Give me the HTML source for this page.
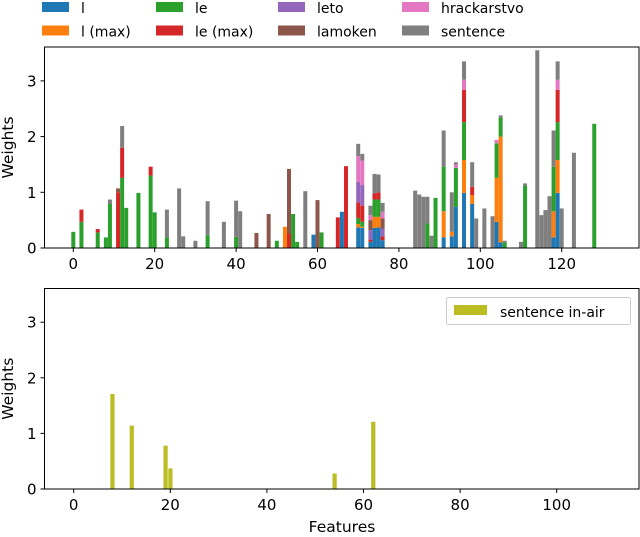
<!DOCTYPE html>
<html><head><meta charset="utf-8"><style>
html,body{margin:0;padding:0;background:#fff;}
svg{display:block;font-family:"DejaVu Sans","Liberation Sans",sans-serif;}
</style></head><body>
<svg id="chart" width="640" height="537" viewBox="0 0 640 537"></svg>
<script>
const seriesNames=["l","l (max)","le","le (max)","leto","lamoken","hrackarstvo","sentence"];
const seriesColors=["#1f77b4","#ff7f0e","#2ca02c","#d62728","#9467bd","#8c564b","#e377c2","#7f7f7f"];
const features=[0,2,6,8,9,11,12,13,16,19,20,23,26,27,30,33,37,40,41,45,48,50,52,53,54,55,57,59,60,61,65,66,67,70,71,73,74,75,76,84,85,86,87,88,89,91,93,94,96,98,99,101,103,104,105,106,110,111,114,115,116,117,118,119,120,123,128];
const sL    =[0,0,0,0,0,0,0,0,0,0,0,0,0,0,0,0,0,0,0,0,0,0,0,0,0,0,0,0.24,0,0,0,0.65,0,0.37,0.36,0.11,0.36,0.37,0.14,0,0,0,0,0,0,0.19,0.21,0.74,0.99,0.79,0,0,0,0.47,0.10,0,0,0,0,0,0,0,0.19,0.99,0,0,0];
const sLmax =[0,0,0,0,0,0,0,0,0,0,0,0,0,0,0,0,0,0,0,0,0,0,0.38,0,0,0,0,0,0,0,0,0,0,0.06,0.02,0,0.2,0.19,0,0,0,0,0,0,0,0.47,0.08,0,0.59,0.16,0,0,0,0.79,1.90,0,0,0,0,0,0,0,0.47,0.59,0,0,0];
const sLe   =[0.29,0.47,0.28,0.19,0.79,0,1.26,0.72,0.99,1.30,0.64,0.19,0,0,0,0.23,0,0.2,0,0,0,0.13,0,0,0.61,0.11,0,0,0,0.28,0,0,0,0.11,0.09,0,0.31,0.31,0,0,0,0,0.44,0,0.90,0.80,0,0.70,0.68,0,0,0,0,0.62,0.34,0.10,0,1.12,0,0,0,0,0.80,0.68,0,0,2.23];
const sLemax=[0,0.22,0.06,0,0,1.0,0.54,0,0,0.16,0,0,0,0,0,0,0,0,0,0,0,0,0,0.26,0,0,0,0,0,0,0.55,0,1.47,0.28,0.29,0.04,0.11,0.13,0.07,0,0,0,0,0,0,0,0,0,0.58,0.15,0,0,0,0,0,0,0,0,0,0,0,0,0,0.58,0,0,0];
const sLeto =[0,0,0,0,0,0,0,0,0,0,0,0,0,0,0,0,0,0,0,0,0,0,0,0,0,0,0,0,0,0,0,0,0,0.37,0.37,0.17,0,0,0.14,0,0,0,0,0,0,0,0,0,0,0,0,0,0,0,0,0,0,0,0,0,0,0,0,0,0,0,0];
const sLam  =[0,0,0,0,0,0.07,0,0,0,0,0,0,0,0,0,0,0,0,0,0.27,0.61,0,0,1.16,0,0,0,0,0.86,0,0,0,0,0,0,0.18,0,0,0.18,0,0,0,0,0,0,0,0,0,0,0,0,0,0,0,0,0,0,0,0,0,0,0,0,0,0,0,0];
const sHr   =[0,0,0,0,0,0,0,0,0,0,0,0,0,0,0,0,0,0,0,0,0,0,0,0,0,0,0,0,0,0,0,0,0,0.46,0.44,0.09,0,0,0.12,0,0,0,0,0,0,0,0,0.06,0.18,0,0,0,0,0.06,0,0,0,0,0,0,0,0,0,0.18,0,0,0];
const sSent =[0,0,0,0,0.08,0,0.39,0,0,0,0,0.50,1.07,0.21,0.13,0.61,0.47,0.65,0.66,0,0,0,0,0,0,0,1.02,0,0,0,0,0,0,0.22,0.12,0.17,0.35,0.32,0.16,1.03,0.96,0.92,0.48,0.22,0,0.65,0.71,0.04,0.33,0.44,0.53,0.71,0.57,0,0.04,0.03,0.11,0.04,3.55,0.59,0.68,0.93,0.65,0.33,0.71,1.71,0];
const stackSeries=[sL,sLmax,sLe,sLemax,sLeto,sLam,sHr,sSent];
const airFeatures=[8,12,19,20,54,62];
const airValues=[1.71,1.14,0.78,0.37,0.28,1.21];
const xTicksTop=[0,20,40,60,80,100,120];
const xTicksBot=[0,20,40,60,80,100];
const yTicks=[0,1,2,3];

const NS="http://www.w3.org/2000/svg";
const svg=document.getElementById('chart');
function mk(tag,attrs,parent){const e=document.createElementNS(NS,tag);for(const k in attrs)e.setAttribute(k,attrs[k]);(parent||svg).appendChild(e);return e;}

const T={l:44.5,r:639,t:47,b:248,x0:73.3,kx:4.07,ky:55.7};
const B={l:44.5,r:639,t:288.5,b:489,x0:73.7,kx:4.83,ky:55.6};
const xT=v=>T.x0+v*T.kx, yT=v=>T.b-v*T.ky;
const xB=v=>B.x0+v*B.kx, yB=v=>B.b-v*B.ky;

const gTop=mk('g',{});


features.forEach((f,i)=>{
  let acc=0;
  stackSeries.forEach((s,j)=>{
    const v=s[i]; if(!v) return;
    const r=mk('rect',{x:xT(f)-2,y:yT(acc+v),width:4,height:v*T.ky,fill:seriesColors[j]},gTop);
    
    
    acc+=v;
  });
});
const gBot=mk('g',{});


airFeatures.forEach((f,i)=>{
  const r=mk('rect',{x:xB(f)-2,y:yB(airValues[i]),width:4.2,height:airValues[i]*B.ky,fill:'#bcbd22'},gBot);
  
  
});

function axes(A,xf,yf,xt,name){
  const fr=mk('rect',{x:A.l,y:A.t,width:A.r-A.l,height:A.b-A.t,fill:'none',stroke:'#000','stroke-width':1});
  
  
  xt.forEach(v=>{
    mk('line',{x1:xf(v),x2:xf(v),y1:A.b,y2:A.b+4,stroke:'#000'});
    const t=mk('text',{x:xf(v),y:A.b+21,'text-anchor':'middle','font-size':15});
    t.textContent=v;
    
    
  });
  yTicks.forEach(v=>{
    mk('line',{x1:A.l-4,x2:A.l,y1:yf(v),y2:yf(v),stroke:'#000'});
    const t=mk('text',{x:A.l-8,y:yf(v)+5.5,'text-anchor':'end','font-size':15});
    t.textContent=v;
    
    
  });
  const yl=mk('text',{x:0,y:0,'text-anchor':'middle','font-size':15.5,transform:`translate(13,${(A.t+A.b)/2}) rotate(-90)`});
  yl.textContent='Weights';
  
  
}
axes(T,xT,yT,xTicksTop,'top');
axes(B,xB,yB,xTicksBot,'bottom');
const xl=mk('text',{x:342,y:532,'text-anchor':'middle','font-size':15.5});
xl.textContent='Features';



const colX=[42,156,278,402];
seriesNames.forEach((n,i)=>{
  const c=Math.floor(i/2), r=i%2;
  const g=mk('g',{});
  
  
  mk('rect',{x:colX[c],y:2+r*23.5,width:27,height:10,fill:seriesColors[i]},g);
  const t=mk('text',{x:colX[c]+39,y:13+r*23.5,'font-size':14},g);
  t.textContent=n;
});
const lg=mk('g',{});


mk('rect',{x:446.5,y:297.5,width:184,height:27,rx:2,fill:'#fff',stroke:'#ccc'},lg);
mk('rect',{x:454,y:305,width:33,height:10,fill:'#bcbd22'},lg);
const lt=mk('text',{x:500,y:317,'font-size':14},lg);
lt.textContent='sentence in-air';
</script>
</body></html>
